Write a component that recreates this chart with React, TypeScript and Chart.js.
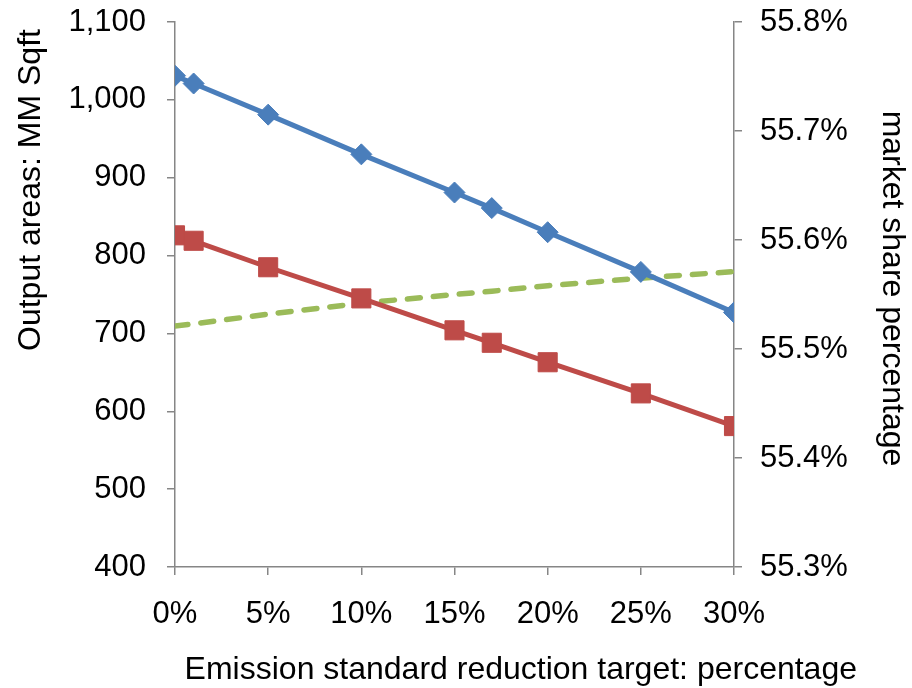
import React, { useEffect, useRef } from "react";
import { Chart, registerables } from "chart.js";

Chart.register(...registerables);

// Emission standard reduction target (%)
const targets = [0, 1, 5, 10, 15, 17, 20, 25, 30];
// Output areas (MM Sqft), two scenarios
const outputA = [1031, 1021, 981, 930, 881, 861, 830, 779, 727];
const outputB = [826, 819, 785, 745, 704, 688, 663, 623, 581];
// Market share percentage (right axis)
const marketShare = [55.521, 55.523, 55.532, 55.542, 55.55, 55.553, 55.558, 55.565, 55.571];

const xTitle = "Emission standard reduction target: percentage";
const yTitle = "Output areas: MM Sqft";
const y1Title = "market share percentage";

const FONT = "'Liberation Sans', Arial, Helvetica, sans-serif";
const FONT_SIZE = 31;
const TITLE_SIZE = 32;
const AXIS_COLOR = "#868686";

// Axis titles, placed relative to the plot area
const axisTitlePlugin = {
  id: "axisTitles",
  afterDraw(chart: any) {
    const { ctx, chartArea } = chart;
    ctx.save();
    ctx.font = `${TITLE_SIZE}px ${FONT}`;
    ctx.fillStyle = "#000";
    ctx.textBaseline = "alphabetic";

    // bottom title, right-aligned beyond the plot
    ctx.textAlign = "right";
    ctx.fillText(xTitle, chartArea.right + 123, chartArea.bottom + 112);

    // left title, reading upwards
    ctx.save();
    ctx.translate(chartArea.left - 135, chartArea.top + 168);
    ctx.rotate(-Math.PI / 2);
    ctx.textAlign = "center";
    ctx.fillText(yTitle, 0, 0);
    ctx.restore();

    // right title, reading downwards
    ctx.save();
    ctx.translate(chartArea.right + 149, (chartArea.top + chartArea.bottom) / 2 - 6);
    ctx.rotate(Math.PI / 2);
    ctx.textAlign = "center";
    ctx.fillText(y1Title, 0, 0);
    ctx.restore();

    ctx.restore();
  },
};

const grid = {
  display: true,
  drawOnChartArea: false,
  drawTicks: true,
  tickLength: 8,
  color: AXIS_COLOR,
  lineWidth: 1.5,
};
const border = { display: true, color: AXIS_COLOR, width: 1.5 };
const tickFont = { family: FONT, size: FONT_SIZE };

export default function App() {
  const canvasRef = useRef<HTMLCanvasElement | null>(null);

  useEffect(() => {
    if (!canvasRef.current) return;
    const pts = (ys: number[]) => targets.map((x, i) => ({ x, y: ys[i] }));

    const chart = new Chart(canvasRef.current, {
      type: "line",
      data: {
        datasets: [
          {
            label: "Output A",
            data: pts(outputA),
            yAxisID: "y",
            borderColor: "#4A7EBB",
            backgroundColor: "#4A7EBB",
            borderWidth: 5,
            pointStyle: "rectRot",
            pointRadius: 10.5,
            pointBorderWidth: 1,
            tension: 0,
          },
          {
            label: "Output B",
            data: pts(outputB),
            yAxisID: "y",
            borderColor: "#BE4B48",
            backgroundColor: "#BE4B48",
            borderWidth: 5,
            pointStyle: "rect",
            pointRadius: 13.5,
            pointBorderWidth: 1,
            tension: 0,
          },
          {
            label: "Market share",
            data: pts(marketShare),
            yAxisID: "y1",
            borderColor: "#9BBB59",
            borderWidth: 5.5,
            borderDash: [13, 13],
            borderCapStyle: "round",
            pointRadius: 0,
            tension: 0,
          },
        ],
      },
      options: {
        responsive: false,
        animation: false,
        layout: { padding: { top: 22, left: 0, right: 0, bottom: 0 } },
        plugins: { legend: { display: false }, tooltip: { enabled: false } },
        scales: {
          x: {
            type: "linear",
            min: 0,
            max: 30,
            afterFit: (s: any) => {
              s.height = 121;
              s.paddingLeft = 0;
              s.paddingRight = 0;
            },
            ticks: {
              stepSize: 5,
              padding: 21,
              color: "#000",
              font: tickFont,
              callback: (v: any) => `${v}%`,
              maxRotation: 0,
            },
            grid,
            border,
          },
          y: {
            position: "left",
            min: 400,
            max: 1100,
            afterFit: (s: any) => {
              s.width = 175;
              s.paddingTop = 0;
              s.paddingBottom = 0;
            },
            ticks: {
              stepSize: 100,
              padding: 21,
              color: "#000",
              font: tickFont,
              callback: (v: any) => Number(v).toLocaleString("en-US"),
            },
            grid,
            border,
          },
          y1: {
            position: "right",
            min: 55.3,
            max: 55.8,
            afterFit: (s: any) => {
              s.width = 178;
              s.paddingTop = 0;
              s.paddingBottom = 0;
            },
            ticks: {
              stepSize: 0.1,
              padding: 18,
              color: "#000",
              font: tickFont,
              callback: (v: any) => `${Number(v).toFixed(1)}%`,
            },
            grid,
            border,
          },
        },
      },
      plugins: [axisTitlePlugin],
    });

    return () => chart.destroy();
  }, []);

  return (
    <div style={{ position: "absolute", left: 0, top: 0, width: 912, height: 688, background: "#fff" }}>
      <canvas ref={canvasRef} width={912} height={688} />
    </div>
  );
}
